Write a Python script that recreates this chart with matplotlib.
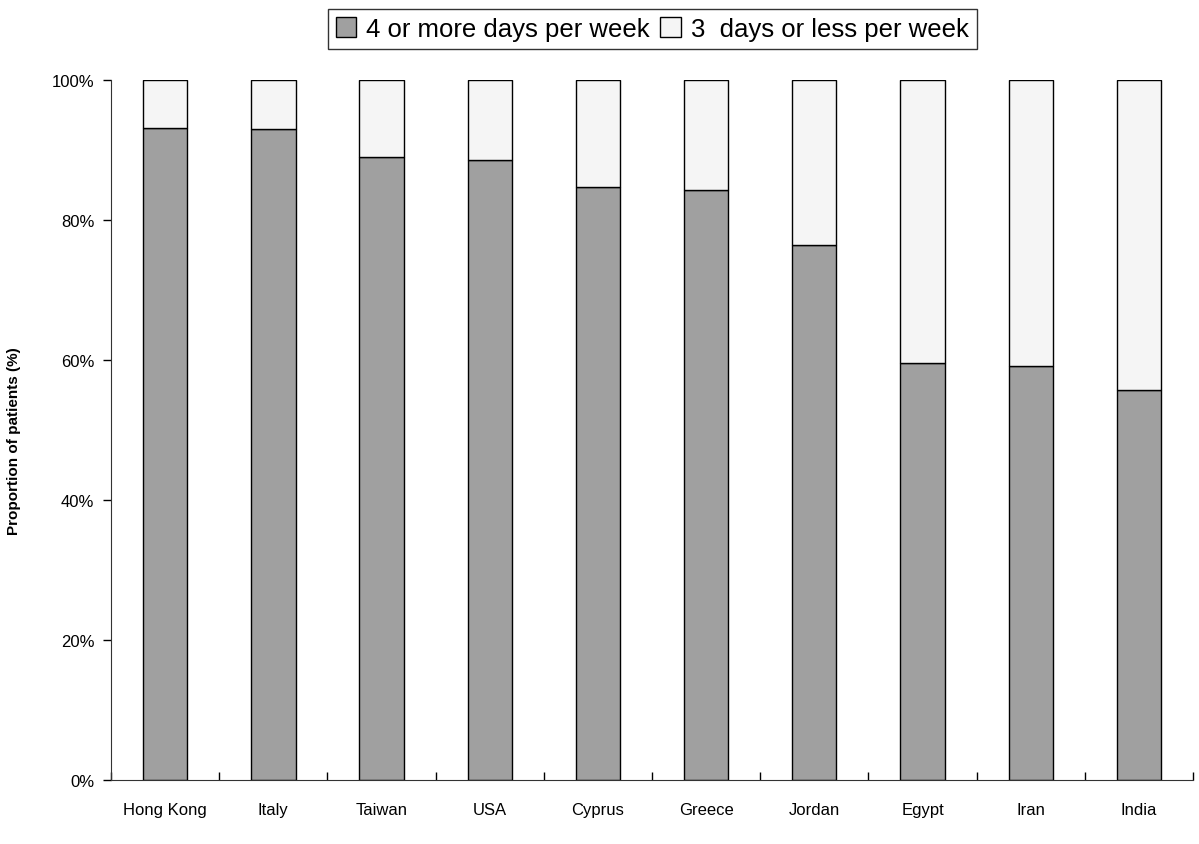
import matplotlib
matplotlib.use("Agg")
import matplotlib.pyplot as plt
import numpy as np
from matplotlib.ticker import PercentFormatter

countries = ["Hong Kong", "Italy", "Taiwan", "USA", "Cyprus",
             "Greece", "Jordan", "Egypt", "Iran", "India"]
four_plus = [93.1, 93.0, 89.0, 88.6, 84.7, 84.3, 76.4, 59.6, 59.1, 55.7]
three_less = [100 - v for v in four_plus]

plt.rcParams["font.family"] = ["Liberation Sans", "DejaVu Sans"]

fig = plt.figure(figsize=(11.99, 8.45), dpi=100)
ax = fig.add_axes([0.0926, 0.0757, 0.9024, 0.8284])

x = np.arange(len(countries))
w = 0.41
ax.bar(x, four_plus, w, color="#a0a0a0", edgecolor="black", linewidth=1,
       label="4 or more days per week")
ax.bar(x, three_less, w, bottom=four_plus, color="#f5f5f5", edgecolor="black",
       linewidth=1, label="3  days or less per week")

ax.set_xlim(-0.5, len(countries) - 0.5)
ax.set_ylim(0, 100)
ax.set_yticks(np.arange(0, 101, 20))
ax.yaxis.set_major_formatter(PercentFormatter(decimals=0))
# ticks sit between the categories, names centred under the bars
ax.set_xticks(np.arange(-0.5, len(countries), 1.0))
ax.set_xticklabels([])
ax.set_xticks(x, minor=True)
ax.set_xticklabels(countries, minor=True, fontsize=12)
ax.tick_params(axis="x", which="minor", length=0, pad=16)
ax.tick_params(axis="x", which="major", length=6, direction="in", width=1)
ax.tick_params(axis="y", length=6, width=1, labelsize=12, pad=6)
for s in ["top", "right"]:
    ax.spines[s].set_visible(False)
ax.spines["left"].set_color("#333333")
ax.spines["bottom"].set_color("#333333")

ax.set_ylabel("Proportion of patients (%)", fontsize=11, fontweight="bold", labelpad=19)
ax.yaxis.set_label_coords(-0.083, 0.486)

leg = fig.legend(loc="upper center", bbox_to_anchor=(0.544, 0.988), ncol=2, fontsize=18.5,
                 frameon=True, fancybox=False, edgecolor="black", handlelength=0.8,
                 handleheight=0.8, handletextpad=0.4, columnspacing=0.4,
                 borderpad=0.3, borderaxespad=0)
leg.get_frame().set_linewidth(1)

fig.savefig("out.png", dpi=100)
